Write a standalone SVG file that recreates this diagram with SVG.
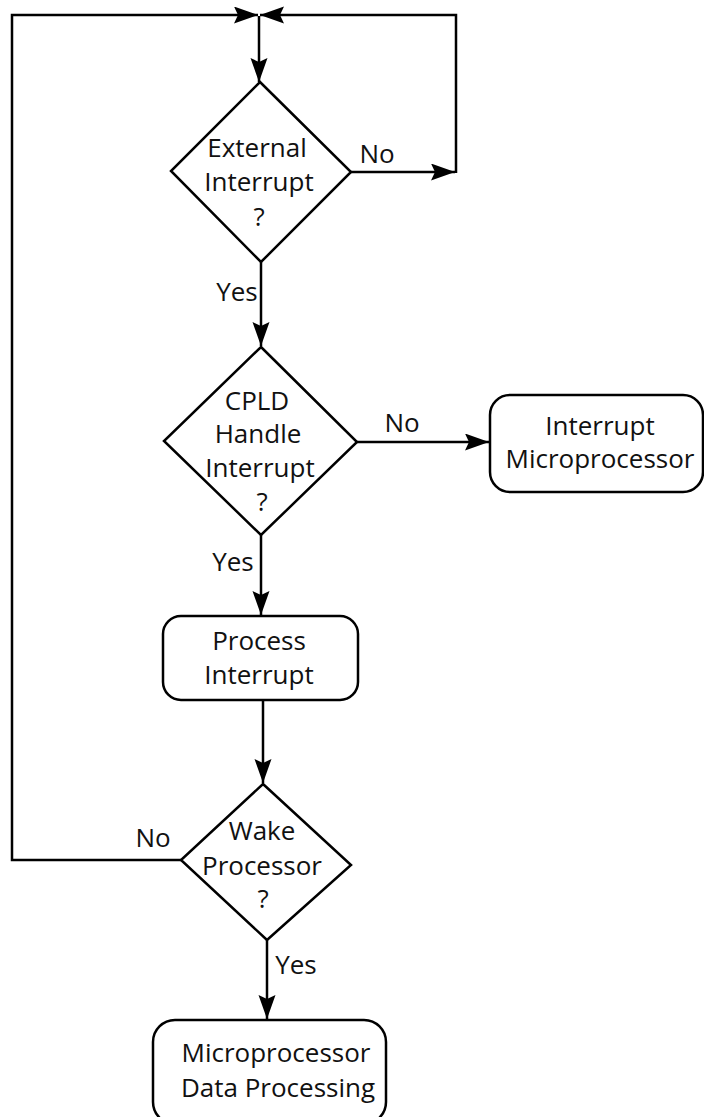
<svg xmlns="http://www.w3.org/2000/svg" width="704" height="1117" viewBox="0 0 704 1117">
<style>
.shape{fill:none;stroke:#000;stroke-width:2.5;stroke-linejoin:miter}
.conn{fill:none;stroke:#000;stroke-width:2.5}
text{font-family:"Open Sans","Noto Sans","Liberation Sans",sans-serif;font-size:26px;fill:#111;text-anchor:middle}
</style>
<defs>
<marker id="arr" markerUnits="userSpaceOnUse" markerWidth="26" markerHeight="18" refX="24" refY="8.5" orient="auto">
<path d="M0,0 L24,8.5 L0,17 L4,8.5 z" fill="#000"/>
</marker>
</defs>
<rect width="704" height="1117" fill="#fff"/>
<g id="connectors">
<path class="conn" d="M259,16 V82" marker-end="url(#arr)"/>
<path class="conn" d="M351,172 H455" marker-end="url(#arr)"/>
<path class="conn" d="M456,173 V15 H260" marker-end="url(#arr)"/>
<path class="conn" d="M181,860 H12 V15 H258" marker-end="url(#arr)"/>
<path class="conn" d="M261,262 V346" marker-end="url(#arr)"/>
<path class="conn" d="M357,442 H489" marker-end="url(#arr)"/>
<path class="conn" d="M261,535 V615" marker-end="url(#arr)"/>
<path class="conn" d="M263,701 V783" marker-end="url(#arr)"/>
<path class="conn" d="M267,940 V1019" marker-end="url(#arr)"/>
<text x="377" y="163">No</text>
<text x="237" y="301">Yes</text>
<text x="402" y="432">No</text>
<text x="233" y="571">Yes</text>
<text x="153" y="847">No</text>
<text x="296" y="974">Yes</text>
</g>
<g id="d1">
<polygon class="shape" points="260,82 351,172 261,262 171,171"/>
<text x="257" y="157">External</text>
<text x="259" y="191">Interrupt</text>
<text x="259" y="226">?</text>
</g>
<g id="d2">
<polygon class="shape" points="261,347 357,442 261,535 164,441"/>
<text x="257" y="410">CPLD</text>
<text x="258" y="443">Handle</text>
<text x="260" y="477">Interrupt</text>
<text x="262" y="511">?</text>
</g>
<g id="b1">
<rect class="shape" x="490" y="395" width="213" height="97" rx="20"/>
<text x="600" y="435">Interrupt</text>
<text x="600" y="468">Microprocessor</text>
</g>
<g id="b2">
<rect class="shape" x="163" y="616" width="195" height="84" rx="18"/>
<text x="259" y="650">Process</text>
<text x="259" y="684">Interrupt</text>
</g>
<g id="d3">
<polygon class="shape" points="263,784 351,865 267,940 181,860"/>
<text x="262" y="840">Wake</text>
<text x="262" y="875">Processor</text>
<text x="263" y="908">?</text>
</g>
<g id="b3">
<rect class="shape" x="153" y="1020" width="233" height="104" rx="22"/>
<text x="276" y="1062">Microprocessor</text>
<text x="278" y="1097">Data Processing</text>
</g>
</svg>
